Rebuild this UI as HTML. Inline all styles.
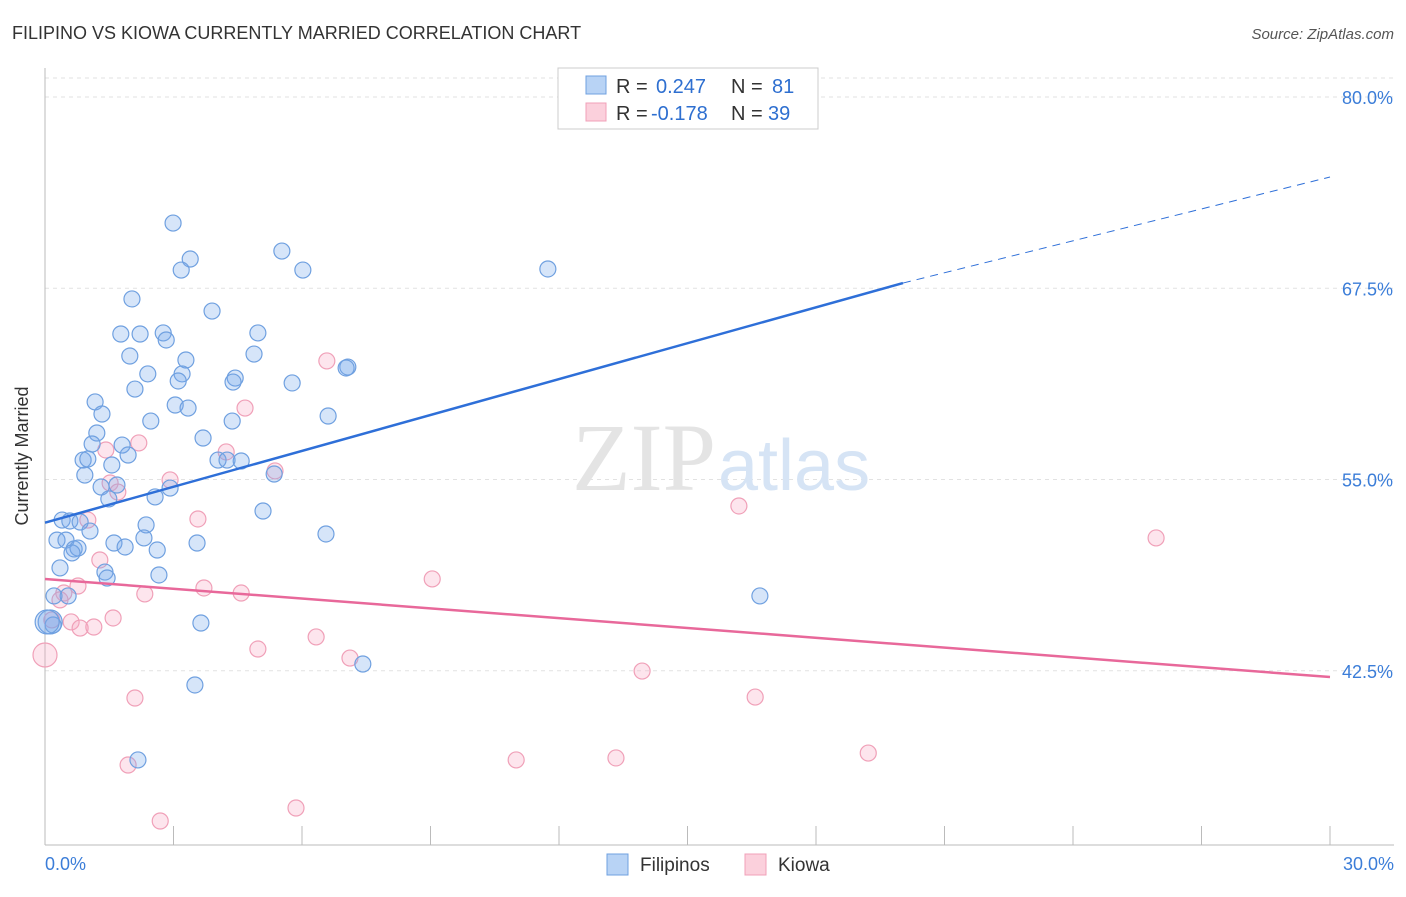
<!DOCTYPE html>
<html><head><meta charset="utf-8"><style>
body{margin:0;background:#fff;font-family:"Liberation Sans",sans-serif;}
</style></head><body>
<svg id="c" width="1406" height="892" xmlns="http://www.w3.org/2000/svg" style="font-family:'Liberation Sans',sans-serif">
<text x="12" y="39" font-size="18" fill="#333">FILIPINO VS KIOWA CURRENTLY MARRIED CORRELATION CHART</text>
<text x="1394" y="39" font-size="15" fill="#555" font-style="italic" text-anchor="end">Source: ZipAtlas.com</text>
<text x="28" y="456" font-size="18" fill="#333" text-anchor="middle" transform="rotate(-90 28 456)">Currently Married</text>
<g id="grid"></g>
<text x="716" y="490" font-size="96" fill="#e4e4e4" text-anchor="end" font-family="Liberation Serif">ZIP</text>
<text x="718" y="490" font-size="72" fill="#d6e4f5">atlas</text>
<g id="pts"></g>
<g id="lines"></g>
<g>
<rect x="558" y="68" width="260" height="61" fill="#fff" stroke="#ccc"/>
<rect x="586" y="76" width="20" height="18" fill="#b8d3f5" stroke="#6fa0e0"/>
<text x="616" y="93" font-size="20" fill="#333">R = </text><text x="656" y="93" font-size="20" fill="#2e6fd0">0.247</text>
<text x="731" y="93" font-size="20" fill="#333">N = </text><text x="772" y="93" font-size="20" fill="#2e6fd0">81</text>
<rect x="586" y="103" width="20" height="18" fill="#fbd0dc" stroke="#f0a0b8"/>
<text x="616" y="120" font-size="20" fill="#333">R = </text><text x="651" y="120" font-size="20" fill="#2e6fd0">-0.178</text>
<text x="731" y="120" font-size="20" fill="#333">N = </text><text x="768" y="120" font-size="20" fill="#2e6fd0">39</text>
</g>
<g>
<rect x="607" y="854" width="21" height="21" fill="#b8d3f5" stroke="#6fa0e0"/>
<text x="640" y="871" font-size="19" fill="#333">Filipinos</text>
<rect x="745" y="854" width="21" height="21" fill="#fbd0dc" stroke="#f0a0b8"/>
<text x="778" y="871" font-size="19" fill="#333">Kiowa</text>
</g>
</svg>
<script>
const yTicks=[80,67.5,55,42.5];
const xTickLabels=["0.0%","30.0%"];
const blueX=[2.99,3.39,3.18,5.53,6.02,11.74,2.03,3.90,1.77,2.22,2.76,2.83,4.97,1.98,3.29,4.88,2.40,3.20,3.11,4.44,4.39,5.77,7.07,7.03,2.10,1.17,3.04,3.34,1.33,2.47,4.37,6.61,1.21,1.10,1.80,3.69,1.94,0.89,1.00,1.56,4.04,4.25,4.58,5.35,0.93,1.31,1.68,2.92,2.57,1.49,5.09,0.40,0.58,0.82,1.05,2.36,0.28,0.49,1.61,2.31,6.56,1.87,3.55,0.68,0.77,0.63,2.62,0.35,1.40,1.45,2.66,0.54,0.21,16.69,3.64,0.12,0.19,7.42,3.50,2.17,0.05];
const blueY=[71.76,69.41,68.69,69.93,68.69,68.76,66.80,66.01,64.51,64.51,64.58,64.12,64.58,63.07,62.81,63.20,61.90,61.90,61.44,61.63,61.37,61.31,62.35,62.29,60.91,60.07,59.87,59.67,59.28,58.82,58.82,59.15,58.04,57.32,57.25,57.71,56.60,56.27,56.34,55.95,56.27,56.27,56.21,55.36,55.29,54.51,54.64,54.44,53.86,53.73,52.94,52.35,52.29,52.22,51.63,52.03,51.04,51.04,50.85,51.18,51.44,50.59,50.85,50.46,50.52,50.20,50.39,49.22,48.95,48.56,48.76,47.39,47.39,47.39,45.62,45.69,45.49,42.94,41.57,36.67,45.69];
const pinkX=[6.58,4.67,2.19,1.42,4.23,5.37,2.92,1.52,1.70,1.00,3.57,16.20,25.94,1.28,9.04,0.77,3.71,2.33,4.58,0.44,1.59,0.61,0.82,1.14,6.33,4.97,7.12,0.00,13.94,2.10,16.58,19.22,11.00,13.33,1.94,5.86,2.69,0.16,0.35];
const pinkY=[62.75,59.67,57.39,56.93,56.80,55.56,54.97,54.77,54.18,52.35,52.42,53.27,51.18,49.74,48.50,48.04,47.91,47.52,47.58,47.58,45.95,45.69,45.29,45.36,44.71,43.92,43.33,43.53,42.48,40.72,40.78,37.12,36.67,36.80,36.34,33.53,32.68,45.82,47.13];
const blueTrend=[[0,52.18],[20.03,67.84],[30,74.77]];
const pinkTrend=[[0,48.50],[30,42.09]];
const X=v=>45+v/30*1285, Y=v=>97+(80-v)*15.3;
const NS="http://www.w3.org/2000/svg";
function mk(t,a,p){const e=document.createElementNS(NS,t);for(const k in a)e.setAttribute(k,a[k]);p.appendChild(e);return e;}
const g=document.getElementById('grid');
mk('line',{x1:45,y1:78,x2:1394,y2:78,stroke:'#e2e2e2','stroke-dasharray':'4,4'},g);
yTicks.forEach(t=>{
 const l=mk('line',{x1:45,y1:Y(t),x2:1394,y2:Y(t),stroke:'#e2e2e2','stroke-dasharray':'4,4'},g);
 
 
 const tx=mk('text',{x:1393,y:Y(t)+7,'font-size':18,fill:'#3b7dd8','text-anchor':'end'},g);
 tx.textContent=t.toFixed(1)+'%';
 
 
});
mk('line',{x1:45,y1:68,x2:45,y2:845,stroke:'#bbb'},g);
mk('line',{x1:45,y1:845,x2:1394,y2:845,stroke:'#bbb'},g);
for(let i=0;i<=10;i++){const l=mk('line',{x1:X(i*3),y1:826,x2:X(i*3),y2:845,stroke:'#bbb'},g);
 
 }
[[0,'start',45],[1,'end',1394]].forEach(([i,a,x])=>{const t=mk('text',{x:x,y:870,'font-size':18,fill:'#3b7dd8','text-anchor':a},g);t.textContent=xTickLabels[i];
 
 });
const p=document.getElementById('pts');
pinkX.forEach((v,i)=>{const c=mk('circle',{cx:X(v),cy:Y(pinkY[i]),r:v<0.1?12:8,fill:'rgba(248,170,195,0.3)',stroke:'#f0a0b8','stroke-width':1.2},p);
 
 });
blueX.forEach((v,i)=>{const c=mk('circle',{cx:X(v),cy:Y(blueY[i]),r:v<0.15?12:8,fill:'rgba(120,170,235,0.3)',stroke:'#6fa0e0','stroke-width':1.2},p);
 
 });
const L=document.getElementById('lines');
let b=mk('line',{x1:X(blueTrend[0][0]),y1:Y(blueTrend[0][1]),x2:X(blueTrend[1][0]),y2:Y(blueTrend[1][1]),stroke:'#2e6fd8','stroke-width':2.5},L);


b=mk('line',{x1:X(blueTrend[1][0]),y1:Y(blueTrend[1][1]),x2:X(blueTrend[2][0]),y2:Y(blueTrend[2][1]),stroke:'#2e6fd8','stroke-width':1,'stroke-dasharray':'8,6'},L);


b=mk('line',{x1:X(pinkTrend[0][0]),y1:Y(pinkTrend[0][1]),x2:X(pinkTrend[1][0]),y2:Y(pinkTrend[1][1]),stroke:'#e8689a','stroke-width':2.5},L);


</script>
</body></html>
